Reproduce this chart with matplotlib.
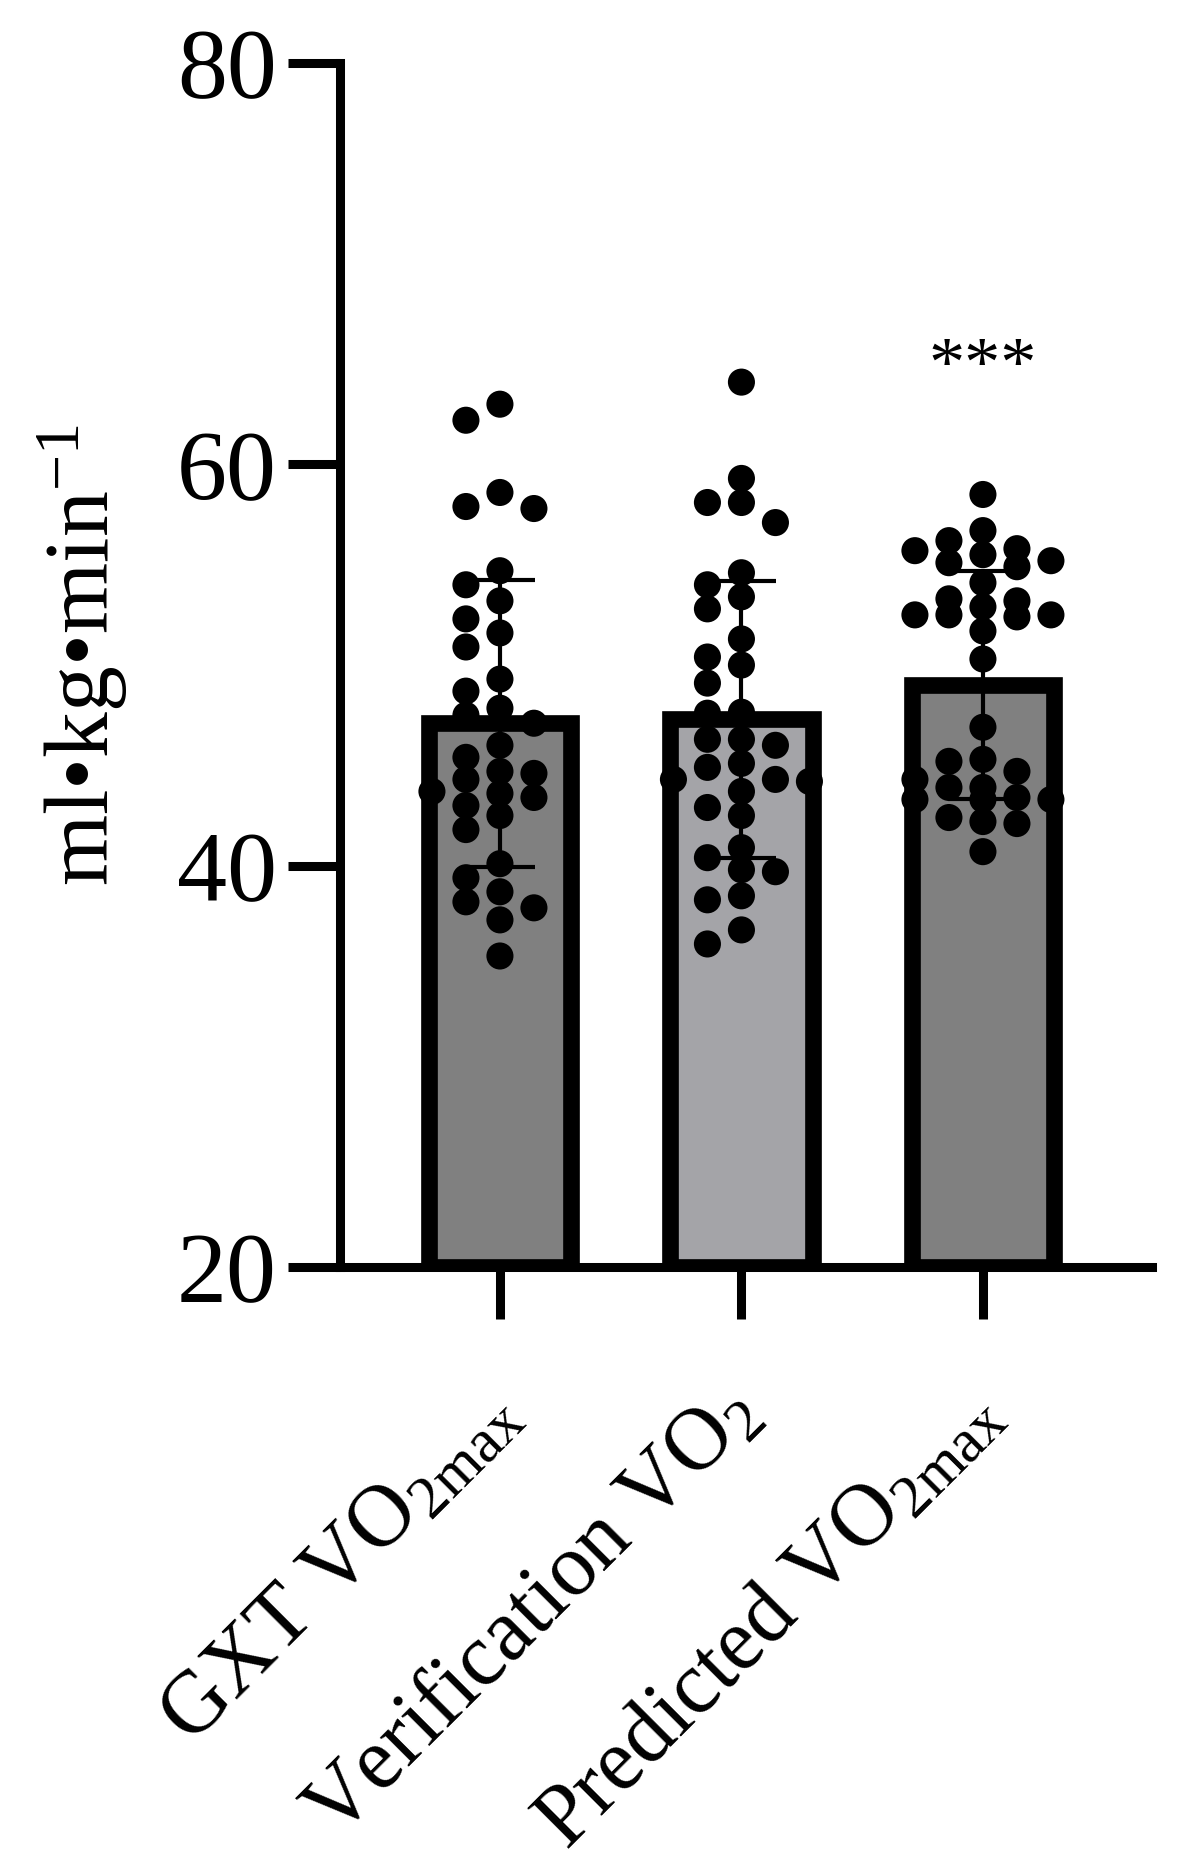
import numpy as np
import matplotlib
matplotlib.use("Agg")
import matplotlib.pyplot as plt
from matplotlib.transforms import ScaledTranslation

plt.rcParams['font.family'] = ['Liberation Serif', 'DejaVu Serif']
plt.rcParams['mathtext.fontset'] = 'custom'
plt.rcParams['mathtext.rm'] = 'Liberation Serif'
plt.rcParams['mathtext.it'] = 'Liberation Serif:italic'

# Daten
gruppen = ["GXT VO$_{\\mathrm{2max}}$", "Verification VO$_{\\mathrm{2}}$",
           "Predicted VO$_{\\mathrm{2max}}$"]
mittelwert = [47.1, 47.3, 49.0]
sd = [7.15, 6.9, 5.7]
farben = ["#808080", "#a4a4a8", "#808080"]

gxt = [63.0, 62.2, 58.6, 57.8, 57.9, 54.7, 54.0, 53.2, 52.3, 51.6, 50.9, 49.3,
       48.7, 47.85, 47.5, 47.1, 46.0, 45.4, 44.6, 44.7, 44.3, 43.4, 43.6, 43.7,
       43.0, 42.5, 41.8, 40.1, 39.4, 38.7, 38.2, 37.9, 37.3, 35.5]
verif = [64.1, 59.3, 58.1, 58.1, 57.1, 54.6, 54.0, 53.4, 52.8, 51.3, 50.4, 50.0,
         49.1, 47.6, 47.65, 46.3, 46.0, 46.3, 45.1, 44.9, 44.3, 44.2, 44.3, 43.7,
         42.9, 42.5, 40.9, 40.4, 39.7, 39.8, 38.5, 38.3, 36.8, 36.1]
pred = [58.5, 56.7, 55.7, 56.2, 55.8, 55.2, 54.9, 55.1, 55.5, 54.1, 53.2, 52.9,
        52.4, 52.5, 52.5, 52.5, 53.3, 51.7, 50.3, 46.9, 45.3, 45.2, 44.7, 43.9,
        44.3, 43.4, 43.3, 43.3, 43.3, 43.9, 42.4, 42.1, 42.2, 40.7]
punkte = [gxt, verif, pred]

yticks = [20, 40, 60, 80]

fig = plt.figure(figsize=(11.82, 18.66), dpi=100)
ax = fig.add_axes([0.2876, 0.321, 0.687, 0.6452])
ax.set_xlim(-0.6625, 2.70)
ax.set_ylim(20, 80)

x = np.arange(len(gruppen))

# Balken
ax.bar(x, np.array(mittelwert) - 20, bottom=20, width=0.59, color=farben,
       edgecolor="black", linewidth=12, zorder=2)


def swarm(werte, xc, durchm=22, schritt=34):
    # einfache Beeswarm-Anordnung in Pixeln, max. 2 Spalten zu jeder Seite
    werte = np.array(werte)
    reihenfolge = np.argsort(-werte)
    pix = ax.transData.transform(np.column_stack([np.full(len(werte), xc), werte]))
    gesetzt = []
    xs = np.zeros(len(werte))
    for i in reihenfolge:
        px, py = pix[i]
        bester, bester_abstand = px, -1
        for k in [0, -1, 1, -2, 2]:
            cx = px + k * schritt
            if gesetzt:
                abstand = min(np.hypot(cx - a, py - b) for a, b in gesetzt)
            else:
                abstand = 1e9
            if abstand >= durchm:
                bester = cx
                break
            if abstand > bester_abstand:
                bester, bester_abstand = cx, abstand
        gesetzt.append((bester, py))
        xs[i] = bester
    daten = ax.transData.inverted().transform(np.column_stack([xs, pix[:, 1]]))
    return daten[:, 0]


for i, werte in enumerate(punkte):
    xs = swarm(werte, x[i])
    ax.scatter(xs, werte, s=19.5 ** 2, color="black", edgecolors="none", zorder=3)

ax.errorbar(x, mittelwert, yerr=sd, fmt="none", ecolor="black", elinewidth=3,
            capsize=25, capthick=3, zorder=4)

ax.text(2, 63.9, "***", ha="center", va="baseline", fontsize=52)

# Achsen
for s in ["top", "right"]:
    ax.spines[s].set_visible(False)
for s in ["left", "bottom"]:
    ax.spines[s].set_linewidth(6.5)
    ax.spines[s].set_capstyle("projecting")

ax.set_yticks(yticks)
ax.set_xticks(x)
ax.tick_params(axis="both", width=6.5, length=37.5, labelsize=72, direction="out")
ax.tick_params(axis="y", pad=8)
ax.tick_params(axis="x", pad=38)
ax.set_xticklabels(gruppen, rotation=45, ha="right", va="top",
                   rotation_mode="anchor", fontsize=63)
verschiebung = ScaledTranslation(-0.24, 0, fig.dpi_scale_trans)
for lab in ax.get_xticklabels():
    lab.set_transform(lab.get_transform() + verschiebung)

fig.text(0.070, 0.649, "ml\u2022kg\u2022min$^{\\mathrm{-1}}$", rotation=90,
         ha="center", va="center", fontsize=66)

fig.savefig("out.png", dpi=100)
